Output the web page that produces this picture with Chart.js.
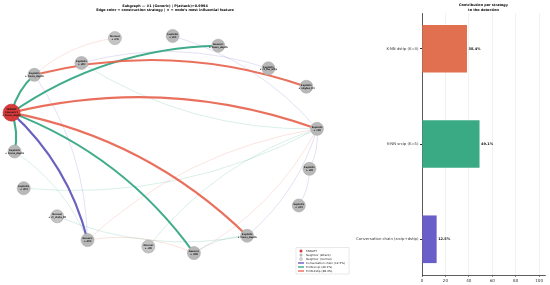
<!DOCTYPE html>
<html>
<head>
<meta charset="utf-8">
<script src="https://cdn.jsdelivr.net/npm/chart.js@4.4.1/dist/chart.umd.min.js"></script>
<style>
  body { margin: 0; background: #fff; width: 550px; height: 285px; overflow: hidden; position: relative; }
  #graphBox { position: absolute; left: 0; top: 0; width: 350px; height: 285px; }
  #barBox { position: absolute; left: 330px; top: 0; width: 220px; height: 285px; }
</style>
</head>
<body>
<div id="graphBox"><canvas id="graphChart" width="350" height="285"></canvas></div>
<div id="barBox"><canvas id="barChart" width="220" height="285"></canvas></div>
<script>
/* strategy data (bar panel, bottom to top) */
const strategies = ['Conversation chain (srcip+dstip)', 'K-NN srcip (K=5)', 'K-NN dstip (K=3)'];
const legendNames = ['Conversation chain', 'K-NN srcip', 'K-NN dstip'];
const shares = [12.5, 49.1, 38.4];
const xTicks = [0, 20, 40, 60, 80, 100];

/* subgraph nodes (layout coordinates) */
const nodeX = [-1.01, -0.86, -0.55, -0.33, 0.05, 0.35, 0.68, 0.93, 1.00, 0.95, 0.88, 0.54, 0.19, -0.11, -0.51, -0.71, -0.93, -0.99];
const nodeY = [0.30, 0.65, 0.76, 0.99, 1.01, 0.92, 0.71, 0.54, 0.15, -0.22, -0.56, -0.84, -1.00, -0.94, -0.88, -0.66, -0.40, -0.06];
const nodeKind = ['target', 'attack', 'attack', 'normal', 'attack', 'attack', 'attack', 'attack', 'attack',
                  'attack', 'attack', 'attack', 'attack', 'normal', 'attack', 'normal', 'attack', 'attack'];
const nodeLabels = [
  ['TARGET', '(Generic)', '★ trans_depth'],
  ['Exploits', '★ trans_depth'], ['Exploits', '★ sttl'], ['Normal', '★ sttl'], ['Exploits', '★ sttl'],
  ['Generic', '★ trans_depth'], ['Exploits', '★ ct_flw_http'], ['Exploits', '★ sbytes_ttl'], ['Exploits', '★ sttl'],
  ['Exploits', '★ sttl'], ['Exploits', '★ sttl'], ['Exploits', '★ trans_depth'], ['Generic', '★ dttl'],
  ['Normal', '★ sttl'], ['Generic', '★ dttl'], ['Normal', '★ ct_state_ttl'], ['Exploits', '★ sttl'], ['Exploits', '★ trans_depth']
];

/* edges: strategy 0 = chain, 1 = srcip, 2 = dstip; strong = part of the target's neighbourhood */
const edgeFrom   = [0, 0, 0, 0, 1, 0, 0, 0, 1, 2, 8, 4, 1, 17, 11, 8, 14, 13, 8, 8, 14, 12, 8, 9];
const edgeTo     = [1, 5, 17, 12, 7, 8, 11, 14, 3, 6, 2, 8, 14, 14, 15, 16, 8, 8, 12, 11, 12, 11, 9, 10];
const edgeKind   = [1, 1, 1, 1, 2, 2, 2, 0, 2, 0, 1, 0, 0, 1, 1, 1, 2, 1, 2, 0, 2, 1, 0, 0];
const edgeStrong = [1, 1, 1, 1, 1, 1, 1, 1, 0, 0, 0, 0, 0, 0, 0, 0, 0, 0, 0, 0, 0, 0, 0, 0];

const barColors = ['#6A5FC8', '#3AAA84', '#E0704F'];
const edgeColors = ['91,80,184', '43,163,126', '232,96,76'];
const FONT = "'DejaVu Sans', sans-serif";

window.addEventListener('load', function () {
  drawGraph();
  drawBars();
});

function drawGraph() {
  // curved edges, drawn under the nodes
  const edgePlugin = {
    id: 'edges',
    beforeDatasetsDraw(chart) {
      const ctx = chart.ctx;
      const sx = chart.scales.x, sy = chart.scales.y;
      const order = [0, 1].flatMap(s => edgeFrom.map((f, i) => i).filter(i => edgeStrong[i] === s));
      ctx.save();
      order.forEach(function (i) {
        const x1 = sx.getPixelForValue(nodeX[edgeFrom[i]]), y1 = sy.getPixelForValue(nodeY[edgeFrom[i]]);
        const x2 = sx.getPixelForValue(nodeX[edgeTo[i]]), y2 = sy.getPixelForValue(nodeY[edgeTo[i]]);
        const rad = 0.15;
        const cx = (x1 + x2) / 2 + rad * (y2 - y1);
        const cy = (y1 + y2) / 2 - rad * (x2 - x1);
        ctx.beginPath();
        ctx.moveTo(x1, y1);
        ctx.quadraticCurveTo(cx, cy, x2, y2);
        if (edgeStrong[i]) {
          ctx.strokeStyle = 'rgba(' + edgeColors[edgeKind[i]] + ',0.9)';
          ctx.lineWidth = 2.1;
        } else {
          ctx.strokeStyle = 'rgba(' + edgeColors[edgeKind[i]] + ',0.22)';
          ctx.lineWidth = 0.8;
        }
        ctx.stroke();
      });
      ctx.restore();
    },
    afterDatasetsDraw(chart) {
      const ctx = chart.ctx;
      const sx = chart.scales.x, sy = chart.scales.y;
      ctx.save();
      ctx.fillStyle = '#111';
      ctx.textAlign = 'center';
      ctx.textBaseline = 'middle';
      ctx.font = 'bold 2.4px ' + FONT;
      nodeLabels.forEach(function (lines, i) {
        const px = sx.getPixelForValue(nodeX[i]), py = sy.getPixelForValue(nodeY[i]);
        lines.forEach(function (t, k) {
          ctx.fillText(t, px, py + (k - (lines.length - 1) / 2) * 2.9);
        });
      });

      // titles
      ctx.font = 'bold 3.4px ' + FONT;
      ctx.fillStyle = '#000';
      ctx.fillText('Subgraph — #1 (Generic) | P(attack)=0.9994', 165, 6);
      ctx.fillText("Edge color = construction strategy | ★ = node's most influential feature", 165, 10.5);

      // legend box
      const lx = 296, ly = 247.5, lw = 53, lh = 26.5;
      ctx.fillStyle = 'rgba(255,255,255,0.85)';
      ctx.strokeStyle = '#d0d0d0';
      ctx.lineWidth = 0.5;
      ctx.beginPath();
      ctx.rect(lx, ly, lw, lh);
      ctx.fill();
      ctx.stroke();
      const items = [
        { t: 'TARGET', m: 'dot', c: '#d83a3a' },
        { t: 'Neighbor (attack)', m: 'dot', c: '#b8b8b8' },
        { t: 'Neighbor (normal)', m: 'ring', c: '#dcdcdc' },
        { t: legendNames[0] + ' (' + shares[0].toFixed(1) + '%)', m: 'line', c: 'rgb(' + edgeColors[0] + ')' },
        { t: legendNames[1] + ' (' + shares[1].toFixed(1) + '%)', m: 'line', c: 'rgb(' + edgeColors[1] + ')' },
        { t: legendNames[2] + ' (' + shares[2].toFixed(1) + '%)', m: 'line', c: 'rgb(' + edgeColors[2] + ')' }
      ];
      ctx.font = '2.8px ' + FONT;
      ctx.textAlign = 'left';
      items.forEach(function (it, k) {
        const y = ly + 3.5 + k * 4;
        if (it.m === 'line') {
          ctx.strokeStyle = it.c;
          ctx.lineWidth = 1.3;
          ctx.beginPath();
          ctx.moveTo(lx + 2, y);
          ctx.lineTo(lx + 8, y);
          ctx.stroke();
        } else {
          ctx.beginPath();
          ctx.arc(lx + 5, y, 1.5, 0, Math.PI * 2);
          ctx.fillStyle = it.c;
          ctx.fill();
          if (it.m === 'ring') {
            ctx.strokeStyle = '#999';
            ctx.lineWidth = 0.4;
            ctx.stroke();
          }
        }
        ctx.fillStyle = '#222';
        ctx.fillText(it.t, lx + 10, y);
      });
      ctx.restore();
    }
  };

  const nodeColors = nodeKind.map(k => k === 'target' ? '#d83a3a' : (k === 'normal' ? '#c4c4c4' : '#b8b8b8'));

  new Chart(document.getElementById('graphChart').getContext('2d'), {
    type: 'scatter',
    data: {
      datasets: [{
        data: nodeX.map((x, i) => ({ x: x, y: nodeY[i] })),
        pointRadius: nodeKind.map(k => k === 'target' ? 8.5 : 6.5),
        pointBackgroundColor: nodeColors,
        pointBorderColor: nodeKind.map(k => k === 'target' ? '#c02828' : '#a9a9a9'),
        pointBorderWidth: 0.6
      }]
    },
    options: {
      responsive: false,
      animation: false,
      events: [],
      layout: { padding: 0, autoPadding: false },
      scales: {
        x: { display: false, min: -1.086, max: 1.217 },
        y: { display: false, min: -1.296, max: 1.343 }
      },
      plugins: { legend: { display: false }, tooltip: { enabled: false } }
    },
    plugins: [edgePlugin]
  });
}

function drawBars() {
  const extras = {
    id: 'barExtras',
    afterDatasetsDraw(chart) {
      const ctx = chart.ctx;
      const area = chart.chartArea;
      ctx.save();
      ctx.fillStyle = '#111';
      ctx.font = 'bold 3.5px ' + FONT;
      ctx.textBaseline = 'middle';
      ctx.textAlign = 'left';
      chart.getDatasetMeta(0).data.forEach(function (bar, i) {
        ctx.fillText(shares[i].toFixed(1) + '%', bar.x + 1.5, bar.y);
      });
      ctx.textAlign = 'center';
      ctx.font = 'bold 3.4px ' + FONT;
      ctx.fillStyle = '#000';
      const cx = (area.left + area.right) / 2;
      ctx.fillText('Contribution per strategy', cx, 5.5);
      ctx.fillText('to the detection', cx, 9.8);
      ctx.restore();
    }
  };

  new Chart(document.getElementById('barChart').getContext('2d'), {
    type: 'bar',
    data: {
      datasets: [{
        data: shares.map((v, i) => ({ x: v, y: i })),
        backgroundColor: barColors,
        borderWidth: 0,
        barPercentage: 0.5,
        categoryPercentage: 1
      }]
    },
    options: {
      indexAxis: 'y',
      responsive: false,
      animation: false,
      events: [],
      layout: { padding: { top: 13, right: 5, left: 0, bottom: 0 }, autoPadding: false },
      scales: {
        x: {
          type: 'linear',
          min: 0,
          max: 105,
          afterBuildTicks: s => { s.ticks = xTicks.map(v => ({ value: v })); },
          afterFit: s => { s.height = 10; },
          ticks: { font: { size: 4.1, family: FONT }, color: '#333', padding: 1, maxRotation: 0 },
          grid: { color: '#e8e8e8', lineWidth: 0.6, tickLength: 2, tickColor: '#333' },
          border: { color: '#333', width: 0.8 }
        },
        y: {
          type: 'linear',
          offset: false,
          min: -0.375,
          max: 2.375,
          afterBuildTicks: s => { s.ticks = strategies.map((n, i) => ({ value: i })); },
          afterFit: s => { s.width = 92; },
          ticks: { font: { size: 3.8, family: FONT }, color: '#333', padding: 1.5, callback: v => strategies[v] },
          grid: { offset: false, drawOnChartArea: false, tickLength: 2, tickColor: '#333' },
          border: { color: '#333', width: 0.8 }
        }
      },
      plugins: { legend: { display: false }, tooltip: { enabled: false } }
    },
    plugins: [extras]
  });
}
</script>
</body>
</html>
